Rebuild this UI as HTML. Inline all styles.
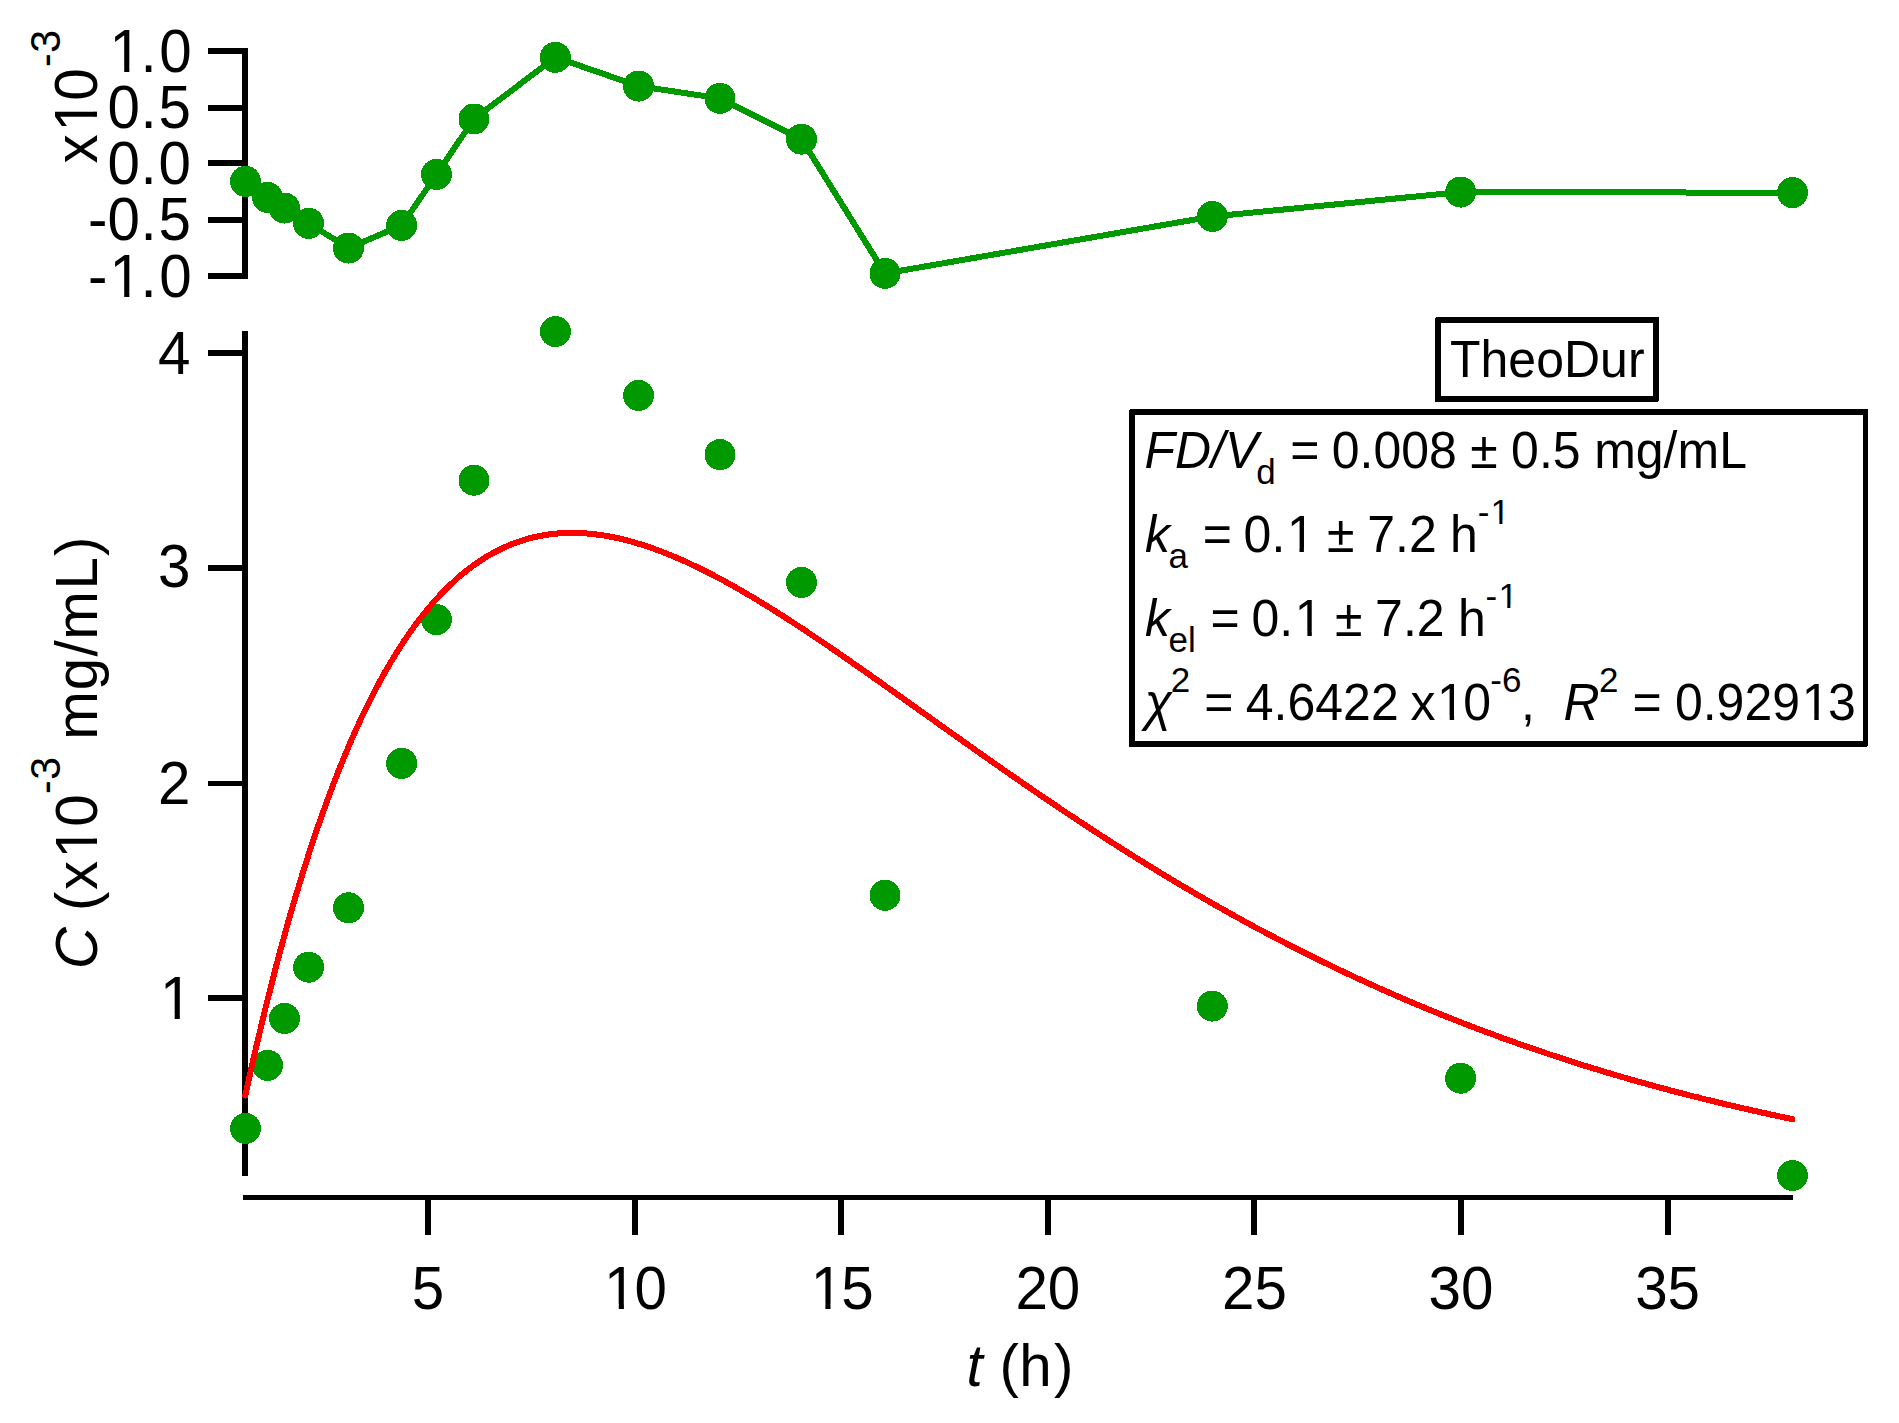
<!DOCTYPE html>
<html lang="en"><head><meta charset="utf-8"><title>TheoDur fit</title>
<style>html,body{margin:0;padding:0;background:#fff;overflow:hidden}svg{display:block}text{font-family:"Liberation Sans",sans-serif;fill:#000}.i{font-style:italic}</style></head><body>
<svg width="1899" height="1423" viewBox="0 0 1899 1423">
<rect width="1899" height="1423" fill="#fff"/>
<g fill="#000" shape-rendering="crispEdges">
<rect x="242" y="48" width="6" height="231"/>
<rect x="208" y="48" width="40" height="6"/>
<rect x="208" y="105" width="40" height="6"/>
<rect x="208" y="160" width="40" height="6"/>
<rect x="208" y="217" width="40" height="6"/>
<rect x="208" y="273" width="40" height="6"/>
<rect x="242" y="331" width="6" height="845"/>
<rect x="208" y="350" width="40" height="6"/>
<rect x="208" y="565" width="40" height="6"/>
<rect x="208" y="781" width="40" height="5"/>
<rect x="208" y="995" width="40" height="6"/>
<rect x="243" y="1195" width="1550" height="5"/>
<rect x="425" y="1195" width="6" height="40"/>
<rect x="632" y="1195" width="6" height="40"/>
<rect x="838" y="1195" width="6" height="40"/>
<rect x="1045" y="1195" width="6" height="40"/>
<rect x="1251" y="1195" width="6" height="40"/>
<rect x="1458" y="1195" width="6" height="40"/>
<rect x="1665" y="1195" width="6" height="40"/>
</g>
<g transform="scale(1,1.04)"><text font-size="58.33"><tspan x="109.5 140.6 159.2" y="69.13">1.0</tspan></text>
<g fill="#fff"><rect x="113.18" y="64.18" width="11.02" height="5.76"/><rect x="129.36" y="64.18" width="10.57" height="5.76"/></g>
</g>
<g transform="scale(1,1.04)"><text font-size="58.33"><tspan x="107.6 140.6 158.6" y="122.88">0.5</tspan></text>
</g>
<g transform="scale(1,1.04)"><text font-size="58.33"><tspan x="107.6 140.6 158.4" y="176.63">0.0</tspan></text>
</g>
<g transform="scale(1,1.04)"><text font-size="58.33"><tspan x="88.1 107.6 140.6 158.6" y="230.48">-0.5</tspan></text>
</g>
<g transform="scale(1,1.04)"><text font-size="58.33"><tspan x="88.1 109.5 140.6 159.2" y="285.58">-1.0</tspan></text>
<g fill="#fff"><rect x="113.18" y="280.62" width="11.02" height="5.76"/><rect x="129.36" y="280.62" width="10.57" height="5.76"/></g>
</g>
<g transform="scale(1,1.04)"><text font-size="58.33"><tspan x="158.1" y="359.52">4</tspan></text>
</g>
<g transform="scale(1,1.04)"><text font-size="58.33"><tspan x="158.1" y="564.71">3</tspan></text>
</g>
<g transform="scale(1,1.04)"><text font-size="58.33"><tspan x="158.1" y="773.08">2</tspan></text>
</g>
<g transform="scale(1,1.04)"><text font-size="58.33"><tspan x="160.0" y="979.81">1</tspan></text>
<g fill="#fff"><rect x="163.64" y="974.85" width="11.02" height="5.76"/><rect x="179.82" y="974.85" width="10.57" height="5.76"/></g>
</g>
<g transform="scale(1,1.04)"><text font-size="58.33"><tspan x="411.8" y="1258.56">5</tspan></text>
</g>
<g transform="scale(1,1.04)"><text font-size="58.33"><tspan x="604.1 634.6" y="1258.56">10</tspan></text>
<g fill="#fff"><rect x="607.74" y="1253.60" width="11.02" height="5.76"/><rect x="623.92" y="1253.60" width="10.57" height="5.76"/></g>
</g>
<g transform="scale(1,1.04)"><text font-size="58.33"><tspan x="810.7 841.2" y="1258.56">15</tspan></text>
<g fill="#fff"><rect x="814.34" y="1253.60" width="11.02" height="5.76"/><rect x="830.52" y="1253.60" width="10.57" height="5.76"/></g>
</g>
<g transform="scale(1,1.04)"><text font-size="58.33"><tspan x="1015.4 1047.8" y="1258.56">20</tspan></text>
</g>
<g transform="scale(1,1.04)"><text font-size="58.33"><tspan x="1222.0 1254.4" y="1258.56">25</tspan></text>
</g>
<g transform="scale(1,1.04)"><text font-size="58.33"><tspan x="1428.6 1461.0" y="1258.56">30</tspan></text>
</g>
<g transform="scale(1,1.04)"><text font-size="58.33"><tspan x="1635.2 1667.6" y="1258.56">35</tspan></text>
</g>
<g transform="scale(1,1.025)"><text font-size="58.33"><tspan x="966.6" y="1352.20" class="i">t</tspan><tspan x="985.0 999.6 1019.2 1053.9" y="1352.20"> (h)</tspan></text>
</g>
<g transform="rotate(-90) scale(1,1.025)"><text font-size="58.33"><tspan x="-969.3" y="94.44" class="i">C</tspan><tspan x="-927.2 -911.0 -889.9 -858.4 -826.8" y="94.44"> (x10</tspan><tspan x="-794.0 -779.8" y="58.34" font-size="41">-3</tspan><tspan x="-757.0 -739.7 -690.2 -656.5 -639.7 -589.4 -556.1" y="94.44"> mg/mL)</tspan></text>
<g fill="#fff"><rect x="-854.72" y="89.48" width="11.02" height="5.76"/><rect x="-838.54" y="89.48" width="10.57" height="5.76"/></g>
</g>
<g transform="rotate(-90) scale(1,1.04)"><text font-size="58.33"><tspan x="-163.5 -131.5 -100.7" y="93.08">x10</tspan><tspan x="-67.1 -52.7" y="57.50" font-size="41">-3</tspan></text>
<g fill="#fff"><rect x="-127.82" y="88.12" width="11.02" height="5.76"/><rect x="-111.64" y="88.12" width="10.57" height="5.76"/></g>
</g>
<polyline points="245.5,181.3 267.6,197.4 284.5,208.1 308.6,223.3 348.5,248.1 401.7,225.4 436.5,174.4 474.0,119.0 555.4,57.3 638.6,86.1 720.0,98.4 801.5,139.2 885.0,273.4 1212.3,216.5 1460.6,192.1 1792.5,192.7" fill="none" stroke="#009900" stroke-width="6" stroke-linejoin="round" shape-rendering="crispEdges"/>
<g fill="#009900" shape-rendering="crispEdges">
<circle cx="245.5" cy="181.3" r="15.5"/>
<circle cx="267.6" cy="197.4" r="15.5"/>
<circle cx="284.5" cy="208.1" r="15.5"/>
<circle cx="308.6" cy="223.3" r="15.5"/>
<circle cx="348.5" cy="248.1" r="15.5"/>
<circle cx="401.7" cy="225.4" r="15.5"/>
<circle cx="436.5" cy="174.4" r="15.5"/>
<circle cx="474.0" cy="119.0" r="15.5"/>
<circle cx="555.4" cy="57.3" r="15.5"/>
<circle cx="638.6" cy="86.1" r="15.5"/>
<circle cx="720.0" cy="98.4" r="15.5"/>
<circle cx="801.5" cy="139.2" r="15.5"/>
<circle cx="885.0" cy="273.4" r="15.5"/>
<circle cx="1212.3" cy="216.5" r="15.5"/>
<circle cx="1460.6" cy="192.1" r="15.5"/>
<circle cx="1792.5" cy="192.7" r="15.5"/>
<circle cx="245.5" cy="1128.4" r="15.5"/>
<circle cx="267.6" cy="1065.3" r="15.5"/>
<circle cx="284.5" cy="1018.4" r="15.5"/>
<circle cx="308.6" cy="967.2" r="15.5"/>
<circle cx="348.5" cy="907.8" r="15.5"/>
<circle cx="401.7" cy="763.4" r="15.5"/>
<circle cx="436.5" cy="619.6" r="15.5"/>
<circle cx="474.0" cy="480.2" r="15.5"/>
<circle cx="555.4" cy="331.6" r="15.5"/>
<circle cx="638.6" cy="395.4" r="15.5"/>
<circle cx="720.0" cy="454.6" r="15.5"/>
<circle cx="801.5" cy="582.4" r="15.5"/>
<circle cx="885.0" cy="895.3" r="15.5"/>
<circle cx="1212.3" cy="1006.1" r="15.5"/>
<circle cx="1460.6" cy="1078.2" r="15.5"/>
<circle cx="1792.5" cy="1175.5" r="15.5"/>
</g>
<polyline points="245.3,1095.5 249.2,1078.0 253.0,1060.8 256.9,1044.1 260.8,1027.7 264.6,1011.7 268.5,996.1 272.4,980.8 276.2,965.9 280.1,951.4 284.0,937.2 287.8,923.3 291.7,909.8 295.6,896.6 299.5,883.8 303.3,871.3 307.2,859.0 311.1,847.1 314.9,835.5 318.8,824.2 322.7,813.2 326.5,802.5 330.4,792.0 334.3,781.9 338.1,772.0 342.0,762.4 345.9,753.0 349.7,743.9 353.6,735.1 357.5,726.5 361.3,718.1 365.2,710.0 369.1,702.1 372.9,694.5 376.8,687.1 380.7,679.9 384.5,673.0 388.4,666.2 392.3,659.7 396.2,653.4 400.0,647.3 403.9,641.3 407.8,635.6 411.6,630.1 415.5,624.8 419.4,619.6 423.2,614.7 427.1,609.9 431.0,605.3 434.8,600.8 438.7,596.6 442.6,592.5 446.4,588.6 450.3,584.8 454.2,581.2 458.0,577.7 461.9,574.4 465.8,571.3 469.6,568.3 473.5,565.4 477.4,562.7 481.2,560.1 485.1,557.6 489.0,555.3 492.9,553.1 496.7,551.1 500.6,549.1 504.5,547.3 508.3,545.6 512.2,544.0 516.1,542.6 519.9,541.2 523.8,540.0 527.7,538.8 531.5,537.8 535.4,536.9 539.3,536.1 543.1,535.4 547.0,534.7 550.9,534.2 554.7,533.8 558.6,533.4 562.5,533.2 566.3,533.0 570.2,532.9 574.1,532.9 577.9,533.0 581.8,533.1 585.7,533.4 589.6,533.7 593.4,534.1 597.3,534.6 601.2,535.1 605.0,535.7 608.9,536.4 612.8,537.1 616.6,537.9 620.5,538.8 624.4,539.7 628.2,540.7 632.1,541.8 636.0,542.9 639.8,544.1 643.7,545.3 647.6,546.5 651.4,547.9 655.3,549.3 659.2,550.7 663.0,552.2 666.9,553.7 670.8,555.3 674.6,556.9 678.5,558.5 682.4,560.2 686.3,562.0 690.1,563.8 694.0,565.6 697.9,567.4 701.7,569.3 705.6,571.3 709.5,573.2 713.3,575.2 717.2,577.3 721.1,579.3 724.9,581.4 728.8,583.6 732.7,585.7 736.5,587.9 740.4,590.1 744.3,592.4 748.1,594.6 752.0,596.9 755.9,599.2 759.7,601.6 763.6,603.9 767.5,606.3 771.3,608.7 775.2,611.2 779.1,613.6 783.0,616.1 786.8,618.5 790.7,621.0 794.6,623.6 798.4,626.1 802.3,628.6 806.2,631.2 810.0,633.8 813.9,636.4 817.8,639.0 821.6,641.6 825.5,644.2 829.4,646.8 833.2,649.5 837.1,652.1 841.0,654.8 844.8,657.5 848.7,660.2 852.6,662.9 856.4,665.6 860.3,668.3 864.2,671.0 868.0,673.7 871.9,676.4 875.8,679.2 879.7,681.9 883.5,684.6 887.4,687.4 891.3,690.1 895.1,692.9 899.0,695.6 902.9,698.4 906.7,701.1 910.6,703.9 914.5,706.7 918.3,709.4 922.2,712.2 926.1,714.9 929.9,717.7 933.8,720.4 937.7,723.2 941.5,726.0 945.4,728.7 949.3,731.5 953.1,734.2 957.0,737.0 960.9,739.7 964.7,742.5 968.6,745.2 972.5,747.9 976.4,750.7 980.2,753.4 984.1,756.1 988.0,758.8 991.8,761.6 995.7,764.3 999.6,767.0 1003.4,769.7 1007.3,772.4 1011.2,775.1 1015.0,777.7 1018.9,780.4 1022.8,783.1 1026.6,785.7 1030.5,788.4 1034.4,791.1 1038.2,793.7 1042.1,796.3 1046.0,799.0 1049.8,801.6 1053.7,804.2 1057.6,806.8 1061.4,809.4 1065.3,812.0 1069.2,814.6 1073.1,817.1 1076.9,819.7 1080.8,822.3 1084.7,824.8 1088.5,827.3 1092.4,829.9 1096.3,832.4 1100.1,834.9 1104.0,837.4 1107.9,839.9 1111.7,842.4 1115.6,844.9 1119.5,847.3 1123.3,849.8 1127.2,852.2 1131.1,854.6 1134.9,857.1 1138.8,859.5 1142.7,861.9 1146.5,864.3 1150.4,866.7 1154.3,869.0 1158.1,871.4 1162.0,873.8 1165.9,876.1 1169.8,878.4 1173.6,880.7 1177.5,883.1 1181.4,885.4 1185.2,887.6 1189.1,889.9 1193.0,892.2 1196.8,894.4 1200.7,896.7 1204.6,898.9 1208.4,901.1 1212.3,903.4 1216.2,905.6 1220.0,907.7 1223.9,909.9 1227.8,912.1 1231.6,914.3 1235.5,916.4 1239.4,918.5 1243.2,920.7 1247.1,922.8 1251.0,924.9 1254.8,927.0 1258.7,929.0 1262.6,931.1 1266.5,933.2 1270.3,935.2 1274.2,937.2 1278.1,939.3 1281.9,941.3 1285.8,943.3 1289.7,945.3 1293.5,947.2 1297.4,949.2 1301.3,951.2 1305.1,953.1 1309.0,955.0 1312.9,957.0 1316.7,958.9 1320.6,960.8 1324.5,962.7 1328.3,964.5 1332.2,966.4 1336.1,968.3 1339.9,970.1 1343.8,971.9 1347.7,973.8 1351.5,975.6 1355.4,977.4 1359.3,979.2 1363.2,980.9 1367.0,982.7 1370.9,984.5 1374.8,986.2 1378.6,988.0 1382.5,989.7 1386.4,991.4 1390.2,993.1 1394.1,994.8 1398.0,996.5 1401.8,998.1 1405.7,999.8 1409.6,1001.5 1413.4,1003.1 1417.3,1004.7 1421.2,1006.3 1425.0,1007.9 1428.9,1009.5 1432.8,1011.1 1436.6,1012.7 1440.5,1014.3 1444.4,1015.8 1448.2,1017.4 1452.1,1018.9 1456.0,1020.4 1459.9,1022.0 1463.7,1023.5 1467.6,1025.0 1471.5,1026.4 1475.3,1027.9 1479.2,1029.4 1483.1,1030.8 1486.9,1032.3 1490.8,1033.7 1494.7,1035.1 1498.5,1036.6 1502.4,1038.0 1506.3,1039.4 1510.1,1040.8 1514.0,1042.1 1517.9,1043.5 1521.7,1044.9 1525.6,1046.2 1529.5,1047.5 1533.3,1048.9 1537.2,1050.2 1541.1,1051.5 1544.9,1052.8 1548.8,1054.1 1552.7,1055.4 1556.6,1056.7 1560.4,1057.9 1564.3,1059.2 1568.2,1060.4 1572.0,1061.7 1575.9,1062.9 1579.8,1064.1 1583.6,1065.4 1587.5,1066.6 1591.4,1067.8 1595.2,1068.9 1599.1,1070.1 1603.0,1071.3 1606.8,1072.5 1610.7,1073.6 1614.6,1074.8 1618.4,1075.9 1622.3,1077.0 1626.2,1078.1 1630.0,1079.3 1633.9,1080.4 1637.8,1081.5 1641.6,1082.5 1645.5,1083.6 1649.4,1084.7 1653.3,1085.8 1657.1,1086.8 1661.0,1087.9 1664.9,1088.9 1668.7,1089.9 1672.6,1091.0 1676.5,1092.0 1680.3,1093.0 1684.2,1094.0 1688.1,1095.0 1691.9,1096.0 1695.8,1096.9 1699.7,1097.9 1703.5,1098.9 1707.4,1099.8 1711.3,1100.8 1715.1,1101.7 1719.0,1102.7 1722.9,1103.6 1726.7,1104.5 1730.6,1105.4 1734.5,1106.3 1738.3,1107.2 1742.2,1108.1 1746.1,1109.0 1750.0,1109.9 1753.8,1110.8 1757.7,1111.6 1761.6,1112.5 1765.4,1113.3 1769.3,1114.2 1773.2,1115.0 1777.0,1115.9 1780.9,1116.7 1784.8,1117.5 1788.6,1118.3 1792.5,1119.1" fill="none" stroke="#ff0000" stroke-width="6" stroke-linejoin="round" stroke-linecap="round" shape-rendering="crispEdges"/>
<g shape-rendering="crispEdges"><rect x="1435" y="317" width="224" height="85" fill="#000"/><rect x="1441" y="323" width="212" height="73" fill="#fff"/><rect x="1435" y="317" width="1" height="1" fill="#fff"/><rect x="1658" y="401" width="1" height="1" fill="#fff"/></g>
<g transform="scale(1,1.025)"><text font-size="50"><tspan x="1450.0 1480.5 1508.3 1536.2 1564.0 1600.1 1627.9" y="367.80">TheoDur</tspan></text>
</g>
<g shape-rendering="crispEdges"><rect x="1129" y="409" width="739" height="338" fill="#000"/><rect x="1135" y="415" width="728" height="326" fill="#fff"/><rect x="1129" y="409" width="1" height="1" fill="#fff"/><rect x="1867" y="746" width="1" height="1" fill="#fff"/></g>
<g transform="scale(1,1.025)"><text font-size="50"><tspan x="1144.4 1174.9 1211.0 1224.9" y="456.59" class="i">FD/V</tspan><tspan x="1256.3" y="472.20" font-size="35">d</tspan><tspan x="1290.2 1319.4" y="456.59">= </tspan><tspan x="1331.7 1359.6 1373.4 1401.3 1429.1 1456.9" y="456.59">0.008 </tspan><tspan x="1470.3 1497.8" y="456.59">± </tspan><tspan x="1511.0 1538.9 1552.7 1580.6" y="456.59">0.5 </tspan><tspan x="1594.2 1635.8 1663.6 1677.5 1719.2" y="456.59">mg/mL</tspan></text>
</g>
<g transform="scale(1,1.025)"><text font-size="50"><tspan x="1145.1" y="538.34" class="i">k</tspan><tspan x="1168.5" y="553.95" font-size="35">a</tspan><tspan x="1202.7 1231.9" y="538.34">= </tspan><tspan x="1243.5 1271.4 1286.9 1313.1" y="538.34">0.1 </tspan><tspan x="1327.1 1354.6" y="538.34">± </tspan><tspan x="1367.2 1395.0 1408.9 1436.7" y="538.34">7.2 </tspan><tspan x="1450.0" y="538.34">h</tspan><tspan x="1477.7 1490.6" y="511.22" font-size="35">-1</tspan></text>
<g fill="#fff"><rect x="1289.91" y="534.01" width="9.56" height="5.14"/><rect x="1303.90" y="534.01" width="9.17" height="5.14"/><rect x="1492.43" y="508.00" width="6.94" height="4.01"/><rect x="1502.46" y="508.00" width="6.66" height="4.01"/></g>
</g>
<g transform="scale(1,1.025)"><text font-size="50"><tspan x="1145.1" y="620.39" class="i">k</tspan><tspan x="1168.5 1188.0" y="636.00" font-size="35">el</tspan><tspan x="1210.6 1239.8" y="620.39">= </tspan><tspan x="1251.4 1279.3 1294.8 1321.0" y="620.39">0.1 </tspan><tspan x="1335.0 1362.5" y="620.39">± </tspan><tspan x="1375.1 1402.9 1416.8 1444.6" y="620.39">7.2 </tspan><tspan x="1457.9" y="620.39">h</tspan><tspan x="1485.6 1498.5" y="593.27" font-size="35">-1</tspan></text>
<g fill="#fff"><rect x="1297.81" y="616.05" width="9.56" height="5.14"/><rect x="1311.80" y="616.05" width="9.17" height="5.14"/><rect x="1500.33" y="590.05" width="6.94" height="4.01"/><rect x="1510.36" y="590.05" width="6.66" height="4.01"/></g>
</g>
<g transform="scale(1,1.025)"><text font-size="50"><tspan x="1144.7" y="702.34" class="i">χ</tspan><tspan x="1170.8" y="675.22" font-size="35">2</tspan><tspan x="1204.2 1233.4" y="702.34">= </tspan><tspan x="1245.8 1273.6 1287.5 1315.3 1343.1 1370.9 1398.7" y="702.34">4.6422 </tspan><tspan x="1410.4 1437.1 1463.2" y="702.34">x10</tspan><tspan x="1490.3 1502.0" y="675.22" font-size="35">-6</tspan><tspan x="1521.1 1535.0 1548.9" y="702.34">,&#160;&#160;</tspan><tspan x="1563.6" y="702.34" class="i">R</tspan><tspan x="1599.0" y="675.22" font-size="35">2</tspan><tspan x="1632.5 1661.7" y="702.34">= </tspan><tspan x="1674.9 1702.8 1716.6 1744.5 1772.3 1801.7 1827.9" y="702.34">0.92913</tspan></text>
<g fill="#fff"><rect x="1440.11" y="698.01" width="9.56" height="5.14"/><rect x="1454.09" y="698.01" width="9.17" height="5.14"/><rect x="1804.74" y="698.01" width="9.56" height="5.14"/><rect x="1818.72" y="698.01" width="9.17" height="5.14"/></g>
</g>
</svg></body></html>
